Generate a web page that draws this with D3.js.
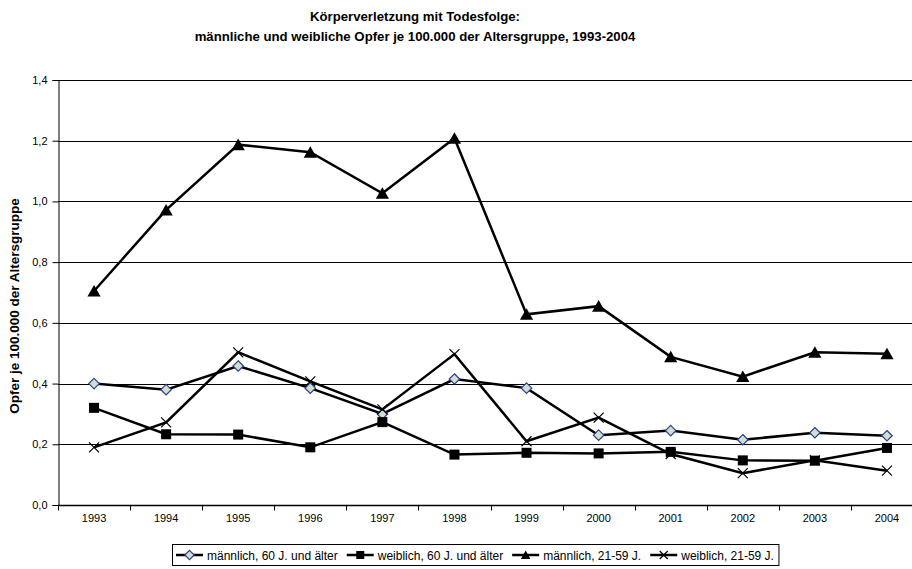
<!DOCTYPE html>
<html>
<head>
<meta charset="utf-8">
<script src="https://cdn.jsdelivr.net/npm/d3@7"></script>
<style>
  body { margin: 0; background: #fff; }
  svg { display: block; font-family: "Liberation Sans", Arial, sans-serif; }
</style>
</head>
<body>
<div id="chart"></div>
<script>
// data
let years = ["1993","1994","1995","1996","1997","1998","1999","2000","2001","2002","2003","2004"];
let maennlich60 = [0.40, 0.38, 0.458, 0.385, 0.30, 0.415, 0.385, 0.23, 0.245, 0.215, 0.238, 0.228];
let weiblich60  = [0.32, 0.233, 0.232, 0.19, 0.273, 0.166, 0.172, 0.17, 0.175, 0.147, 0.146, 0.188];
let maennlich21 = [0.705, 0.972, 1.187, 1.162, 1.027, 1.208, 0.628, 0.655, 0.488, 0.423, 0.503, 0.498];
let weiblich21  = [0.19, 0.272, 0.503, 0.407, 0.315, 0.497, 0.21, 0.288, 0.168, 0.105, 0.147, 0.113];
let yTicks = [0, 0.2, 0.4, 0.6, 0.8, 1.0, 1.2, 1.4];
let seriesNames = ["männlich, 60 J. und älter", "weiblich, 60 J. und älter", "männlich, 21-59 J.", "weiblich, 21-59 J."];

let series = [
    {name: seriesNames[0], values: maennlich60, marker: "diamond"},
    {name: seriesNames[1], values: weiblich60, marker: "square"},
    {name: seriesNames[2], values: maennlich21, marker: "triangle"},
    {name: seriesNames[3], values: weiblich21, marker: "cross"}
];

let width = 912, height = 569;

let svg = d3.select("#chart").append("svg")
    .attr("width", width)
    .attr("height", height);

let x = d3.scaleBand().domain(years).range([58, 923]);
let y = d3.scaleLinear().domain([0, 1.4]).range([505, 80]);

// title
let title = svg.append("text")
    .attr("text-anchor", "middle")
    .style("font-size", "13.2px")
    .style("font-weight", "bold");
title.append("tspan").attr("x", 415).attr("y", 21).text("Körperverletzung mit Todesfolge:");
title.append("tspan").attr("x", 415).attr("y", 41).text("männliche und weibliche Opfer je 100.000 der Altersgruppe, 1993-2004");

// gridlines
svg.append("g")
    .selectAll("line")
    .data(yTicks.slice(1))
    .join("line")
    .attr("x1", 58).attr("x2", 923)
    .attr("y1", d => Math.round(y(d)) + 0.5)
    .attr("y2", d => Math.round(y(d)) + 0.5)
    .attr("stroke", "#000")
    .attr("stroke-width", 1);

// y axis
let yAxis = svg.append("g")
    .attr("transform", "translate(58.5,0)")
    .call(d3.axisLeft(y).tickValues(yTicks).tickSize(6).tickPadding(5)
        .tickFormat(d => d3.format(".1f")(d).replace(".", ",")));
yAxis.attr("font-family", null).attr("font-size", null);
yAxis.select(".domain").attr("stroke", "#000");
yAxis.selectAll("text").style("font-size", "11px").attr("fill", "#000");

// x axis (ticks between categories)
let xAxis = svg.append("g")
    .attr("transform", "translate(0,505.5)");
xAxis.append("line")
    .attr("x1", 58).attr("x2", 923)
    .attr("stroke", "#000").attr("stroke-width", 1.5);
xAxis.selectAll(".tk")
    .data(years)
    .join("line")
    .attr("class", "tk")
    .attr("x1", d => Math.round(x(d)) + 0.5)
    .attr("x2", d => Math.round(x(d)) + 0.5)
    .attr("y1", 0).attr("y2", 5)
    .attr("stroke", "#000");
xAxis.selectAll("text")
    .data(years)
    .join("text")
    .attr("x", d => x(d) + x.bandwidth() / 2)
    .attr("y", 16)
    .attr("text-anchor", "middle")
    .style("font-size", "11px")
    .text(d => d);

// y axis title
svg.append("text")
    .attr("transform", "translate(19,306) rotate(-90)")
    .attr("text-anchor", "middle")
    .style("font-size", "13.5px")
    .style("font-weight", "bold")
    .text("Opfer je 100.000 der Altersgruppe");

let line = d3.line()
    .x((d, i) => x(years[i]) + x.bandwidth() / 2)
    .y(d => y(d));

function drawMarker(g, type, size) {
    if (type === "diamond") {
        g.append("path").attr("d", d3.symbol(d3.symbolDiamond2, size * 7)())
            .attr("fill", "#cfe3c4").attr("stroke", "#2e3aa0").attr("stroke-width", 1.2);
    } else if (type === "square") {
        g.append("rect").attr("x", -size / 2).attr("y", -size / 2)
            .attr("width", size).attr("height", size).attr("fill", "#000");
    } else if (type === "triangle") {
        g.append("path").attr("d", `M0,${-size * 0.55}L${size * 0.6},${size * 0.5}L${-size * 0.6},${size * 0.5}Z`)
            .attr("fill", "#000");
    } else if (type === "cross") {
        let h = size / 2;
        g.append("path").attr("d", `M${-h},${-h}L${h},${h}M${-h},${h}L${h},${-h}`)
            .attr("stroke", "#000").attr("stroke-width", 1.2);
    }
}

let sizes = {diamond: 10, square: 10, triangle: 11, cross: 10};

series.forEach(s => {
    let g = svg.append("g");
    g.append("path")
        .datum(s.values)
        .attr("d", line)
        .attr("fill", "none")
        .attr("stroke", "#000")
        .attr("stroke-width", 2.5);
    g.selectAll("g.pt")
        .data(s.values)
        .join("g")
        .attr("class", "pt")
        .attr("transform", (d, i) => `translate(${x(years[i]) + x.bandwidth() / 2},${y(d)})`)
        .each(function() { drawMarker(d3.select(this), s.marker, sizes[s.marker]); });
});

// legend, entries laid out from their text widths
let legend = svg.append("g");
let box = legend.append("rect")
    .attr("x", 172.5).attr("y", 544.5)
    .attr("height", 21)
    .attr("fill", "#fff").attr("stroke", "#000");
let cursor = 176;
series.forEach((s, i) => {
    let lg = legend.append("g").attr("transform", `translate(${cursor},555)`);
    lg.append("line").attr("x1", 0).attr("x2", 27).attr("stroke", "#000").attr("stroke-width", 2.5);
    let m = lg.append("g").attr("transform", "translate(13.5,0)");
    drawMarker(m, s.marker, 8);
    let t = lg.append("text")
        .attr("x", 31).attr("y", 4.5)
        .style("font-size", "12px")
        .text(s.name);
    cursor += 31 + t.node().getComputedTextLength() + 9;
});
box.attr("width", cursor - 9 + 5 - 172.5);
</script>
</body>
</html>
